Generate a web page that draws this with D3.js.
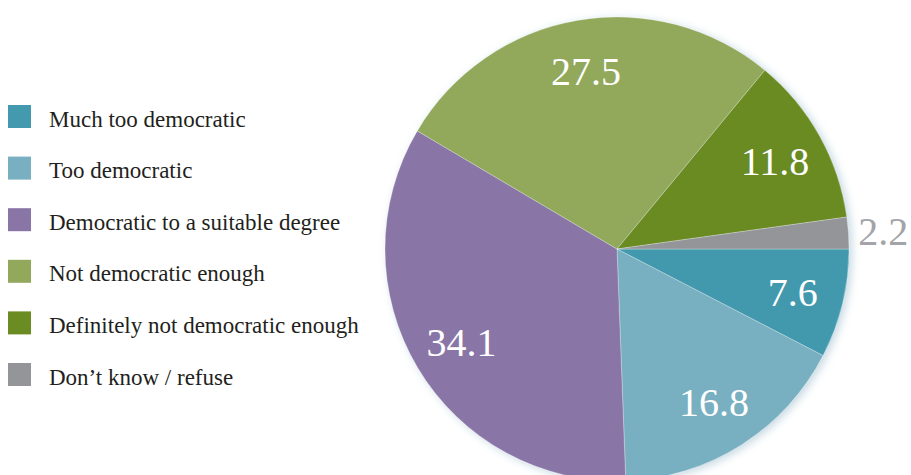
<!DOCTYPE html>
<html>
<head>
<meta charset="utf-8">
<script src="https://cdn.jsdelivr.net/npm/d3@7"></script>
<style>
  html, body { margin: 0; padding: 0; background: #ffffff; }
  svg { display: block; }
</style>
</head>
<body>
<div id="chart"></div>
<script>
// Opinion on how democratic the system is (percent of respondents)
const categories = [
  "Much too democratic",
  "Too democratic",
  "Democratic to a suitable degree",
  "Not democratic enough",
  "Definitely not democratic enough",
  "Don\u2019t know / refuse"
];
const values = [7.6, 16.8, 34.1, 27.5, 11.8, 2.2];
const colors = ["#4399ae", "#79b0c1", "#8976a6", "#92a95b", "#6b8b23", "#939598"];

const width = 911, height = 475;
const cx = 617, cy = 249, radius = 232;
const serif = '"Liberation Serif"';

const svg = d3.select("#chart").append("svg")
  .attr("width", width)
  .attr("height", height);

// soft bluish glow around the pie
const defs = svg.append("defs");
const glow = defs.append("filter").attr("id", "glow")
  .attr("x", "-10%").attr("y", "-10%").attr("width", "120%").attr("height", "120%");
glow.append("feGaussianBlur").attr("in", "SourceAlpha").attr("stdDeviation", 4).attr("result", "blur");
glow.append("feOffset").attr("in", "blur").attr("dx", 3).attr("dy", 2).attr("result", "off");
glow.append("feFlood").attr("flood-color", "#7fa9bf").attr("flood-opacity", 0.45).attr("result", "col");
glow.append("feComposite").attr("in", "col").attr("in2", "off").attr("operator", "in").attr("result", "shadow");
const merge = glow.append("feMerge");
merge.append("feMergeNode").attr("in", "shadow");
merge.append("feMergeNode").attr("in", "SourceGraphic");

const color = d3.scaleOrdinal().domain(categories).range(colors);

const pie = d3.pie()
  .value(d => d.value)
  .sort(null)
  .startAngle(Math.PI / 2)
  .endAngle(Math.PI / 2 + 2 * Math.PI);

const data = categories.map((c, i) => ({ category: c, value: values[i] }));
const arcs = pie(data);

const arc = d3.arc().innerRadius(0).outerRadius(radius);
const labelArc = d3.arc().innerRadius(radius * 0.78).outerRadius(radius * 0.78);
const outerLabelArc = d3.arc().innerRadius(radius * 1.15).outerRadius(radius * 1.15);

const g = svg.append("g").attr("transform", `translate(${cx},${cy})`);

g.append("g").attr("filter", "url(#glow)")
  .selectAll("path")
  .data(arcs)
  .join("path")
  .attr("d", arc)
  .attr("fill", d => color(d.data.category))
  .attr("stroke", "rgba(255,255,255,0.35)")
  .attr("stroke-width", 0.8);

// value labels: inside the slice, or outside for very small slices
g.selectAll("text.value")
  .data(arcs)
  .join("text")
  .attr("class", "value")
  .attr("transform", d => {
    const small = d.data.value < 5;
    const p = (small ? outerLabelArc : labelArc).centroid(d);
    return `translate(${p[0]},${p[1]})`;
  })
  .attr("text-anchor", "middle")
  .attr("dy", "0.35em")
  .style("font-family", serif)
  .style("font-size", "40px")
  .attr("fill", d => d.data.value < 5 ? "#a2a4a7" : "#ffffff")
  .text(d => d3.format(".1f")(d.data.value));

// legend
const legend = svg.append("g").attr("transform", "translate(8,105)");
const rowH = 51.6;
const item = legend.selectAll("g")
  .data(categories)
  .join("g")
  .attr("transform", (d, i) => `translate(0,${i * rowH})`);

item.append("rect")
  .attr("width", 23)
  .attr("height", 23)
  .attr("fill", d => color(d));

item.append("text")
  .attr("x", 41)
  .attr("y", 21.5)
  .style("font-family", serif)
  .style("font-size", "23px")
  .attr("fill", "#231f20")
  .text(d => d);
</script>
</body>
</html>
